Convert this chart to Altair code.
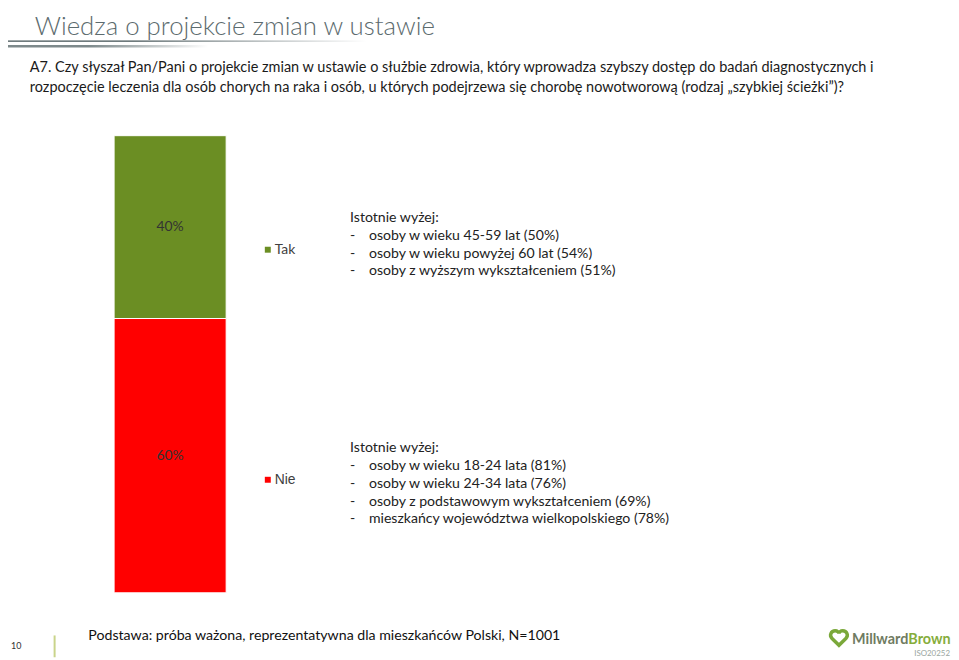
import altair as alt
import pandas as pd

# ---- data ----
answers = ["Tak", "Nie"]
shares = [40, 60]
bar_colors = ["#6b8e23", "#ff0000"]

title_text = "Wiedza o projekcie zmian w ustawie"
question_lines = [
    "A7. Czy słyszał Pan/Pani o projekcie zmian w ustawie o służbie zdrowia, który wprowadza szybszy dostęp do  badań diagnostycznych i",
    "rozpoczęcie leczenia dla osób chorych na raka i osób, u których podejrzewa się chorobę nowotworową (rodzaj „szybkiej ścieżki”)?",
]
tak_notes = [
    "osoby w wieku 45-59 lat (50%)",
    "osoby w wieku powyżej 60 lat (54%)",
    "osoby z wyższym wykształceniem (51%)",
]
nie_notes = [
    "osoby w wieku 18-24 lata (81%)",
    "osoby w wieku 24-34 lata (76%)",
    "osoby z podstawowym wykształceniem (69%)",
    "mieszkańcy województwa wielkopolskiego (78%)",
]
footer_text = "Podstawa: próba ważona, reprezentatywna dla mieszkańców Polski, N=1001"
page_no = "10"

FONT = "Lato"
W, H = 951, 652
OFF = 8  # page margin


def px(v):
    return v - OFF


# stacked bar table: Nie at bottom, Tak on top
bar_df = pd.DataFrame({"answer": answers, "value": shares, "bar": ["A7", "A7"]})
bar_df["order"] = [1, 0]
bottoms = []
acc = 0
for a, v in zip(answers[::-1], shares[::-1]):
    bottoms.append((a, acc, acc + v))
    acc += v
mid = {a: (b0 + b1) / 2 for a, b0, b1 in bottoms}
bar_df["mid"] = bar_df["answer"].map(mid)
bar_df["label"] = bar_df["value"].astype(str) + "%"

one = pd.DataFrame({"k": [0]})

color_scale = alt.Scale(domain=answers, range=bar_colors)
x_scale = alt.Scale(domain=["A7"], range=[px(115), px(228)], paddingInner=0, paddingOuter=0)
y_scale = alt.Scale(domain=[0, 100], range=[px(595), px(134)], nice=False, zero=True)

base = alt.Chart(bar_df)

bars = base.mark_bar(stroke="white", strokeWidth=1).encode(
    x=alt.X("bar:N", scale=x_scale, axis=None),
    y=alt.Y("value:Q", stack="zero", scale=y_scale, axis=None),
    color=alt.Color("answer:N", scale=color_scale, legend=None),
    order=alt.Order("order:Q"),
)

labels = base.mark_text(font=FONT, fontSize=14, color="#333333").encode(
    x=alt.X("bar:N", scale=x_scale, axis=None),
    y=alt.Y("mid:Q", scale=y_scale, axis=None),
    text="label:N",
)

# custom legend
leg_df = pd.DataFrame({"answer": answers})
leg_tak = alt.Chart(leg_df[leg_df.answer == "Tak"])
leg_nie = alt.Chart(leg_df[leg_df.answer == "Nie"])
leg_layers = []
for c, ly, fnt in [(leg_tak, px(249), FONT), (leg_nie, px(481), "Liberation Sans")]:
    leg_layers.append(
        c.mark_square(size=36, opacity=1).encode(
            x=alt.value(px(270)), y=alt.value(ly),
            color=alt.Color("answer:N", scale=color_scale, legend=None),
        )
    )
    leg_layers.append(
        c.mark_text(font=fnt, fontSize=14, align="left", baseline="middle", color="#404040").encode(
            x=alt.value(px(277)), y=alt.value(ly), text="answer:N"
        )
    )


def text_block(lines, x, y_first_center, lh=18, size=14.2, color="#222222", font=FONT):
    return alt.Chart(one).mark_text(
        font=font, fontSize=size, align="left", baseline="middle",
        color=color, lineBreak="\n", lineHeight=lh,
    ).encode(
        x=alt.value(x),
        y=alt.value(y_first_center),
        text=alt.value("\n".join(lines)),
    )


notes = []
for items, yc in [(tak_notes, px(217)), (nie_notes, px(449))]:
    notes.append(text_block(["Istotnie wyżej:"] + ["-"] * len(items), px(353), yc))
    notes.append(text_block([" "] + items, px(372), yc))

# title + decorative underlines
title = alt.Chart(one).mark_text(
    font=FONT, fontSize=26, fontWeight=300, align="left", baseline="alphabetic", color="#5c6b6e"
).encode(x=alt.value(px(35)), y=alt.value(px(32)), text=alt.value(title_text))

grad1 = alt.LinearGradient(
    gradient="linear", x1=0, x2=1, y1=0, y2=0,
    stops=[alt.GradientStop(color="#3f4f52", offset=0), alt.GradientStop(color="#3f4f52", offset=0.35),
           alt.GradientStop(color="#ffffff", offset=1)],
)
grad2 = alt.LinearGradient(
    gradient="linear", x1=0, x2=1, y1=0, y2=0,
    stops=[alt.GradientStop(color="#7d898b", offset=0), alt.GradientStop(color="#7d898b", offset=0.4),
           alt.GradientStop(color="#ffffff", offset=1)],
)
line1 = alt.Chart(one).mark_rect(fill=grad1).encode(
    x=alt.value(0), x2=alt.value(px(370)), y=alt.value(px(38)), y2=alt.value(px(39.3))
)
line2 = alt.Chart(one).mark_rect(fill=grad2).encode(
    x=alt.value(0), x2=alt.value(px(210)), y=alt.value(px(42.5)), y2=alt.value(px(45))
)

question = alt.Chart(one).mark_text(
    font=FONT, fontSize=14.6, align="left", baseline="alphabetic", color="#1a1a1a",
    lineBreak="\n", lineHeight=20,
).encode(x=alt.value(px(30)), y=alt.value(px(70)), text=alt.value("\n".join(question_lines)))

footer = alt.Chart(one).mark_text(
    font=FONT, fontSize=14.3, align="left", baseline="alphabetic", color="#111111"
).encode(x=alt.value(px(89)), y=alt.value(px(643)), text=alt.value(footer_text))

pnum = alt.Chart(one).mark_text(
    font=FONT, fontSize=9, align="left", baseline="middle", color="#333333"
).encode(x=alt.value(px(11)), y=alt.value(px(649)), text=alt.value(page_no))

vbar = alt.Chart(one).mark_rect(color="#c9d48a").encode(
    x=alt.value(px(54)), x2=alt.value(px(56)), y=alt.value(px(638)), y2=alt.value(H)
)

# logo
heart_path = (
    "M0,0.9 L-0.9,0 C-1.3,-0.4 -1.0,-1.0 -0.5,-1.0 C-0.2,-1.0 0,-0.8 0,-0.6 "
    "C0,-0.8 0.2,-1.0 0.5,-1.0 C1.0,-1.0 1.3,-0.4 0.9,0 Z"
)
logo_icon = alt.Chart(one).mark_point(
    shape=heart_path, size=240, filled=False, strokeWidth=3.5, color="#7aa83a", opacity=1
).encode(x=alt.value(px(846)), y=alt.value(px(641)))
logo1 = alt.Chart(one).mark_text(
    font=FONT, fontSize=14.5, fontWeight="bold", align="right", baseline="alphabetic", color="#6f7b62"
).encode(x=alt.value(px(916)), y=alt.value(px(647)), text=alt.value("Millward"))
logo2 = alt.Chart(one).mark_text(
    font=FONT, fontSize=14.5, fontWeight="bold", align="left", baseline="alphabetic", color="#86ad3b"
).encode(x=alt.value(px(916)), y=alt.value(px(647)), text=alt.value("Brown"))
logo3 = alt.Chart(one).mark_text(
    font=FONT, fontSize=8, align="right", baseline="alphabetic", color="#9aa5a0"
).encode(x=alt.value(px(958)), y=alt.value(px(659)), text=alt.value("ISO20252"))

chart = alt.layer(
    line1, line2, title, question, bars, labels, *leg_layers, *notes,
    footer, pnum, vbar, logo_icon, logo1, logo2, logo3,
).properties(
    width=W, height=H, autosize=alt.AutoSizeParams(type="none"), padding=0,
).configure(background="white", view=alt.ViewConfig(stroke=None))

chart.save("out.html", embed_options={"renderer": "svg", "actions": False})
